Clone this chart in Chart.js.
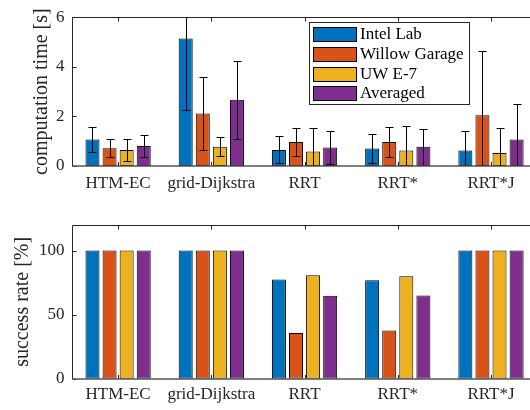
<!DOCTYPE html>
<html>
<head>
<meta charset="utf-8">
<script src="https://cdn.jsdelivr.net/npm/chart.js@4.4.1/dist/chart.umd.min.js"></script>
<style>
html, body { margin: 0; padding: 0; background: #fff; overflow: hidden; width: 530px; height: 410px; }
canvas { position: absolute; left: 0; }
#timeChart { top: 0; }
#rateChart { top: 205px; }
</style>
</head>
<body>
<canvas id="timeChart" width="560" height="205"></canvas>
<canvas id="rateChart" width="560" height="205"></canvas>
<script>
var planners = ["HTM-EC", "grid-Dijkstra", "RRT", "RRT*", "RRT*J"];
var maps = ["Intel Lab", "Willow Garage", "UW E-7", "Averaged"];
var colors = ["#0072BD", "#D95319", "#EDB120", "#7E2F8E"];

// mean computation time [s]
var timeIntel = [1.07, 5.14, 0.65, 0.71, 0.62];
var timeWillow = [0.72, 2.12, 0.97, 0.97, 2.05];
var timeUW = [0.65, 0.78, 0.58, 0.63, 0.52];
var timeAvg = [0.81, 2.67, 0.75, 0.78, 1.07];

// standard deviation of computation time [s]
var stdIntel = [0.49, 2.87, 0.54, 0.57, 0.80];
var stdWillow = [0.37, 1.48, 0.58, 0.62, 2.58];
var stdUW = [0.43, 0.39, 0.96, 0.99, 1.00];
var stdAvg = [0.43, 1.57, 0.67, 0.72, 1.45];

// success rate [%]
var rateIntel = [100, 100, 77.5, 76.9, 100];
var rateWillow = [100, 100, 35.6, 37.7, 100];
var rateUW = [100, 100, 80.8, 80.0, 100];
var rateAvg = [100, 100, 64.7, 64.9, 100];

var timeTicks = [0, 2, 4, 6];
var rateTicks = [0, 50, 100];

var serif = "'Liberation Serif', 'Times New Roman', serif";
var ink = "#262626";

// whiskers: mean +/- std, clipped to the plot box like matlab does
var errorBars = {
  id: "errorBars",
  afterDatasetsDraw: function (chart) {
    var ctx = chart.ctx, y = chart.scales.y, a = chart.chartArea;
    ctx.save();
    ctx.beginPath();
    ctx.rect(a.left, a.top, a.right - a.left, a.bottom - a.top);
    ctx.clip();
    ctx.strokeStyle = "#000";
    ctx.lineWidth = 1;
    chart.data.datasets.forEach(function (ds, i) {
      if (!ds.spread) return;
      chart.getDatasetMeta(i).data.forEach(function (bar, j) {
        var m = ds.data[j], s = ds.spread[j];
        var top = Math.round(y.getPixelForValue(m + s)) + 0.5;
        var bot = Math.round(y.getPixelForValue(m - s)) + 0.5;
        var x = Math.round(bar.x) + 0.5;
        ctx.beginPath();
        ctx.moveTo(x, top); ctx.lineTo(x, bot);
        ctx.moveTo(x - 4, top); ctx.lineTo(x + 4, top);
        ctx.moveTo(x - 4, bot); ctx.lineTo(x + 4, bot);
        ctx.stroke();
      });
    });
    ctx.restore();
  }
};

// box around the axes with inward ticks
var axesBox = {
  id: "axesBox",
  afterDraw: function (chart) {
    var ctx = chart.ctx, a = chart.chartArea, x = chart.scales.x, y = chart.scales.y;
    var l = Math.round(a.left) + 0.5, t = Math.round(a.top) + 0.5;
    var r = Math.round(a.right) + 0.5, b = Math.round(a.bottom);
    ctx.save();
    ctx.strokeStyle = ink;
    ctx.lineWidth = 1;
    ctx.beginPath();
    ctx.moveTo(l, b); ctx.lineTo(l, t); ctx.lineTo(r, t); ctx.lineTo(r, b);
    x.ticks.forEach(function (tk, i) {
      var px = Math.round(x.getPixelForTick(i)) + 0.5;
      ctx.moveTo(px, t); ctx.lineTo(px, t + 4);
      ctx.moveTo(px, b); ctx.lineTo(px, b - 4);
    });
    y.ticks.forEach(function (tk, i) {
      var py = Math.round(y.getPixelForTick(i)) + 0.5;
      ctx.moveTo(l, py); ctx.lineTo(l + 4, py);
      ctx.moveTo(r, py); ctx.lineTo(r - 4, py);
    });
    ctx.stroke();
    ctx.strokeStyle = "#555";
    ctx.lineWidth = 1.6;
    ctx.beginPath();
    ctx.moveTo(l, b); ctx.lineTo(r, b);
    ctx.stroke();
    ctx.restore();
  }
};

// matlab style legend box inside the plot
var boxLegend = {
  id: "boxLegend",
  afterDraw: function (chart) {
    var ctx = chart.ctx;
    ctx.save();
    ctx.fillStyle = "#fff";
    ctx.fillRect(309.5, 22.5, 160, 82);
    ctx.strokeStyle = ink;
    ctx.lineWidth = 1;
    ctx.strokeRect(309.5, 22.5, 160, 82);
    ctx.font = "17px " + serif;
    ctx.textBaseline = "middle";
    chart.data.datasets.forEach(function (ds, i) {
      var rowY = Math.round(27 + i * 19.8) + 0.5;
      ctx.fillStyle = ds.backgroundColor;
      ctx.fillRect(313.5, rowY, 43, 14);
      ctx.strokeStyle = "#000";
      ctx.strokeRect(313.5, rowY, 43, 14);
      ctx.fillStyle = "#000";
      ctx.fillText(ds.label, 360, rowY + 7.5);
    });
    ctx.restore();
  }
};

function makeDatasets(series, spreads) {
  return series.map(function (values, i) {
    return {
      label: maps[i],
      data: values,
      spread: spreads ? spreads[i] : null,
      backgroundColor: colors[i],
      borderColor: "#000",
      borderWidth: 1,
      borderSkipped: false,
      categoryPercentage: 0.733,
      barPercentage: 0.82
    };
  });
}

function drawBars(id, datasets, opt) {
  var plugins = [errorBars, axesBox];
  if (opt.legend) plugins.push(boxLegend);
  return new Chart(document.getElementById(id), {
    type: "bar",
    data: { labels: planners, datasets: datasets },
    plugins: plugins,
    options: {
      responsive: false,
      animation: false,
      layout: { padding: { top: opt.padTop, right: 22.4, left: 0, bottom: 0 } },
      plugins: { legend: { display: false }, tooltip: { enabled: false } },
      scales: {
        x: {
          grid: { display: false, drawTicks: false },
          border: { display: false },
          ticks: { color: ink, font: { family: serif, size: 17 }, padding: opt.xPad, maxRotation: 0 },
          afterFit: function (scale) { scale.height = opt.xHeight; }
        },
        y: {
          min: 0,
          max: opt.max,
          grid: { display: false, drawTicks: false },
          border: { display: false },
          ticks: { color: ink, font: { family: serif, size: 17 }, padding: 7 },
          afterBuildTicks: function (scale) {
            scale.ticks = opt.ticks.map(function (v) { return { value: v }; });
          },
          afterFit: function (scale) { scale.width = 71.5; },
          title: {
            display: true,
            text: opt.title,
            color: ink,
            font: { family: serif, size: 20 },
            padding: { top: opt.titlePad, bottom: 0 }
          }
        }
      }
    }
  });
}

drawBars("timeChart",
  makeDatasets([timeIntel, timeWillow, timeUW, timeAvg], [stdIntel, stdWillow, stdUW, stdAvg]),
  { legend: true, padTop: 13, xHeight: 39, xPad: 7, max: 6, ticks: timeTicks, title: "computation time [s]", titlePad: 30 });

drawBars("rateChart",
  makeDatasets([rateIntel, rateWillow, rateUW, rateAvg], null),
  { legend: false, padTop: 20, xHeight: 31.3, xPad: 6, max: 120, ticks: rateTicks, title: "success rate [%]", titlePad: 11 });
</script>
</body>
</html>
